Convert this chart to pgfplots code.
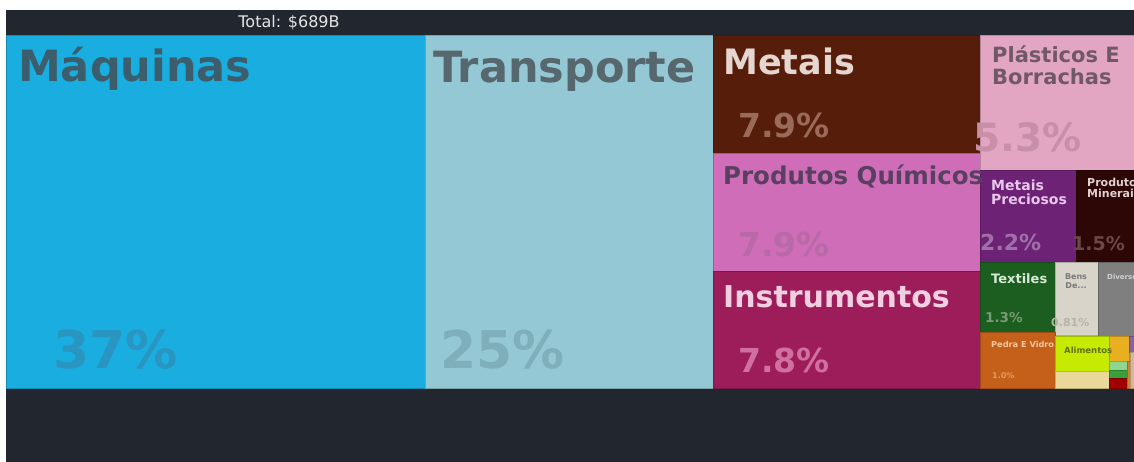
\documentclass[border=0pt]{standalone}
\usepackage{fontspec}
\setmainfont{DejaVu Sans}
\usepackage{pgfplots}
\pgfplotsset{compat=1.18}

\definecolor{panel}{HTML}{21262F}
\definecolor{cMaq}{HTML}{1AADDF}
\definecolor{cTra}{HTML}{94C8D5}
\definecolor{cMet}{HTML}{561D0A}
\definecolor{cQui}{HTML}{D06DB8}
\definecolor{cIns}{HTML}{9D1D5A}
\definecolor{cPla}{HTML}{E2A6C2}
\definecolor{cPre}{HTML}{6D2275}
\definecolor{cMin}{HTML}{2D0606}
\definecolor{cTex}{HTML}{1B5E1F}
\definecolor{cBen}{HTML}{D8D4CA}
\definecolor{cDiv}{HTML}{7F7F7F}
\definecolor{cPed}{HTML}{C4601A}
\definecolor{cAli}{HTML}{C6EA00}
\definecolor{cTan}{HTML}{EAD898}
\definecolor{cOra}{HTML}{E8B020}
\definecolor{cLgr}{HTML}{8FD68F}
\definecolor{cGrn}{HTML}{3AA03A}
\definecolor{cRed}{HTML}{A00000}
\definecolor{cStr}{HTML}{D08030}
\definecolor{cPur}{HTML}{8A60A0}
\definecolor{cTa2}{HTML}{D8B890}

% one tile of the treemap: x0, y0, x1, y1 (pixels, y down), colour
\newcommand{\tile}[5]{%
  \addplot[fill=#5, draw=#5!80!black, line width=0.6pt]
    coordinates {(#1,#2) (#3,#2) (#3,#4) (#1,#4)} -- cycle;}
% label: x, baseline y, size, hex colour, text
\newcommand{\lab}[5]{%
  \node[anchor=base west, inner sep=0pt,
        font=\bfseries\fontsize{#3}{#3}\selectfont] at (axis cs:#1,#2) {\color[HTML]{#4}#5};}

\begin{document}
\begin{tikzpicture}
\begin{axis}[
  width=1134pt, height=462pt, scale only axis,
  xmin=0, xmax=1134, ymin=0, ymax=462, y dir=reverse,
  hide axis]
\fill[white] (axis cs:0,0) rectangle (axis cs:1134,462);
\fill[panel] (axis cs:6,10) rectangle (axis cs:1134,462);

\tile{6}{35}{425}{388}{cMaq}
\tile{425}{35}{713}{388}{cTra}
\tile{713}{35}{980}{153}{cMet}
\tile{713}{153}{980}{271}{cQui}
\tile{713}{271}{980}{388}{cIns}
\tile{980}{35}{1134}{170}{cPla}
\tile{980}{170}{1076}{262}{cPre}
\tile{1076}{170}{1134}{262}{cMin}
\tile{980}{262}{1055}{332}{cTex}
\tile{1055}{262}{1098}{335}{cBen}
\tile{1098}{262}{1134}{336}{cDiv}
\tile{980}{332}{1055}{388}{cPed}
\tile{1055}{336}{1109}{371}{cAli}
\tile{1055}{371}{1109}{388}{cTan}
\tile{1109}{336}{1129}{361}{cOra}
\tile{1109}{361}{1127}{370}{cLgr}
\tile{1109}{370}{1127}{378}{cGrn}
\tile{1109}{378}{1127}{388}{cRed}
\tile{1127}{361}{1130}{388}{cStr}
\tile{1129}{336}{1134}{352}{cPur}
\tile{1130}{352}{1134}{388}{cTa2}

\node[anchor=base, inner sep=0pt, text=white!90!black,
      font=\fontsize{16}{16}\selectfont] at (axis cs:289,28) {Total: \$689B};

\lab{18}{82}{43}{3C5E6C}{Máquinas}
\lab{53}{368}{52}{2A95C0}{37\%}
\lab{433}{83}{43}{56676D}{Transporte}
\lab{440}{368}{52}{80AFBC}{25\%}
\lab{723}{75}{35}{E6D6D0}{Metais}
\lab{738}{138}{33}{9A6A5A}{7.9\%}
\lab{723}{185}{24.5}{5A4060}{Produtos Químicos}
\lab{738}{256}{33}{B86AA8}{7.9\%}
\lab{723}{307}{30}{F0D0E0}{Instrumentos}
\lab{738}{372}{33}{D070A0}{7.8\%}
\lab{992}{63}{21}{705868}{Plásticos E}
\lab{992}{85}{21}{705868}{Borrachas}
\lab{973}{152}{39}{C890A8}{5.3\%}
\lab{991}{191}{14}{E8C8EA}{Metais}
\lab{991}{205}{14}{E8C8EA}{Preciosos}
\lab{980}{251}{22}{A070A8}{2.2\%}
\lab{1087}{187}{11}{E0D0D0}{Produtos}
\lab{1087}{198}{11}{E0D0D0}{Minerais}
\lab{1072}{251}{19}{6A4848}{1.5\%}
\lab{991}{283}{13}{D8E8D8}{Textiles}
\lab{985}{322}{13.5}{7A9A78}{1.3\%}
\node[anchor=base, inner sep=0pt, text=black!52, font=\bfseries\fontsize{8}{8}\selectfont]
  at (axis cs:1076,279) {Bens};
\node[anchor=base, inner sep=0pt, text=black!52, font=\bfseries\fontsize{8}{8}\selectfont]
  at (axis cs:1076,288) {De...};
\lab{1051}{326}{11}{B8B4AA}{0.81\%}
\lab{1107}{279}{7}{D0D0D0}{Diversos}
\lab{991}{347}{8.2}{F4C8A0}{Pedra E Vidro}
\lab{992}{378}{8}{E89A60}{1.0\%}
\lab{1064}{353}{8.5}{607010}{Alimentos}
\end{axis}
\pgfresetboundingbox
\useasboundingbox (current axis.south west) rectangle (current axis.north east);
\end{tikzpicture}
\end{document}
